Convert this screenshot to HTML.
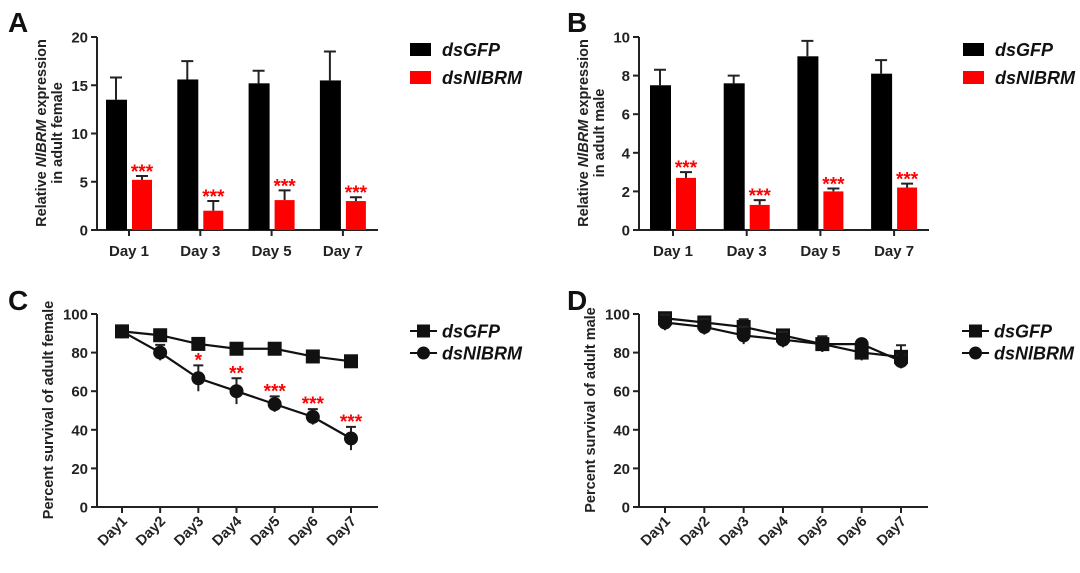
<!DOCTYPE html>
<html><head><meta charset="utf-8"><style>
body{margin:0;background:#fff;width:1080px;height:568px;overflow:hidden}
svg{font-family:"Liberation Sans",Arial,sans-serif;font-weight:bold}
</style></head><body>
<svg id="s" width="1080" height="568" viewBox="0 0 1080 568"></svg>
<script>
const barDays=["Day 1","Day 3","Day 5","Day 7"];
const aGfp=[13.5,15.6,15.2,15.5], aGfpErr=[2.3,1.9,1.3,3.0];
const aNib=[5.2,2.0,3.1,3.0], aNibErr=[0.4,1.0,1.0,0.4];
const aTicks=[0,5,10,15,20];
const bGfp=[7.5,7.6,9.0,8.1], bGfpErr=[0.8,0.4,0.8,0.7];
const bNib=[2.7,1.3,2.0,2.2], bNibErr=[0.3,0.25,0.15,0.2];
const bTicks=[0,2,4,6,8,10];
const lineDays=["Day1","Day2","Day3","Day4","Day5","Day6","Day7"];
const cGfp=[91,89,84.5,82,82,78,75.5], cGfpErr=[1,1,1,1,1,1,1];
const cNib=[91,80,66.7,60,53.3,46.7,35.5], cNibErr=[1,4,6.7,6.7,4,4,6];
const cSig=["","","*","**","***","***","***"];
const dGfp=[97.8,95.6,93.3,88.9,84.4,80,77.8], dGfpErr=[1,1.5,4,1,4,4,6];
const dNib=[95.6,93.3,88.9,86.7,84.4,84.4,75.6], dNibErr=[4,4,4.5,4,4,2,3];
const lineTicks=[0,20,40,60,80,100];
const NS="http://www.w3.org/2000/svg", S=document.getElementById('s');
function el(t,a,p){const e=document.createElementNS(NS,t);for(const k in a)e.setAttribute(k,a[k]);(p||S).appendChild(e);return e;}
function txt(x,y,s,a,p){const e=el('text',Object.assign({x:x,y:y},a),p);e.textContent=s;return e;}
function axes(g,x0,x1,yTop,yBot,ticks,max,tickX){
  const y=v=>yBot-(v/max)*(yBot-yTop);
  const ax=el('path',{d:`M${x0} ${yTop}V${yBot}H${x1}`,stroke:'#222','stroke-width':2,fill:'none'},g);
  
  ticks.forEach(t=>{el('line',{x1:x0-6,x2:x0,y1:y(t),y2:y(t),stroke:'#222','stroke-width':2},g);
    const tl=txt(x0-9,y(t)+5.5,String(t),{'font-size':15,'text-anchor':'end',fill:'#222'},g);
    });
  tickX.forEach(tx=>el('line',{x1:tx,x2:tx,y1:yBot,y2:yBot+6,stroke:'#222','stroke-width':2},g));
  return y;
}
function err(g,x,y1,y2,w){el('path',{d:`M${x} ${y1}V${y2}M${x-w} ${y2}H${x+w}`,stroke:'#222','stroke-width':2,fill:'none'},g);}
function barPanel(name,letter,lx,x0,x1,t0,step,max,ticks,gfp,ge,nib,ne,titleLines,legX){
  const g=el('g',{});
  const L=txt(lx,32,letter,{'font-size':28,fill:'#111'},g);
  const tx=barDays.map((d,i)=>t0+i*step);
  const y=axes(g,x0,x1,37,230,ticks,max,tx);
  barDays.forEach((d,i)=>{
    const bx=tx[i]-23;
    err(g,bx+10,y(gfp[i]),y(gfp[i]+ge[i]),6);
    const b=el('rect',{x:bx,y:y(gfp[i]),width:21,height:230-y(gfp[i]),fill:'#000'},g);
    
    const rx=tx[i]+3;
    err(g,rx+10,y(nib[i]),y(nib[i]+ne[i]),6);
    const r=el('rect',{x:rx,y:y(nib[i]),width:20,height:230-y(nib[i]),fill:'#f00'},g);
    
    const st=txt(rx+10,y(nib[i]+ne[i])+2,'***',{'font-size':19,'text-anchor':'middle',fill:'#f00'},g);
    
    const xl=txt(tx[i],256,d,{'font-size':15,'text-anchor':'middle',fill:'#222'},g);
    
  });
  const tt=el('text',{transform:`translate(${x0-43},133) rotate(-90)`,'font-size':14.5,'text-anchor':'middle',fill:'#222'},g);
  
  tt.innerHTML=`<tspan x="0" dy="-8">Relative <tspan font-style="italic">NlBRM</tspan> expression</tspan><tspan x="0" dy="16">${titleLines}</tspan>`;
  [['#000','dsGFP',43],['#f00','dsNlBRM',71]].forEach(([c,s,yy])=>{
    const lr=el('rect',{x:legX,y:yy,width:21,height:13,fill:c},g);
    const lt=txt(legX+32,yy+13,s,{'font-size':18,'font-style':'italic',fill:'#111'},g);
  });
}
barPanel('panel-a-bar-chart','A',8,97,378,129,71.3,20,aTicks,aGfp,aGfpErr,aNib,aNibErr,'in adult female',410);
barPanel('panel-b-bar-chart','B',567,639,929,673,73.7,10,bTicks,bGfp,bGfpErr,bNib,bNibErr,'in adult male',963);
function linePanel(name,letter,lx,x0,x1,t0,t6,gfp,ge,nib,ne,sig,title,legX){
  const g=el('g',{});
  const L=txt(lx,310,letter,{'font-size':28,fill:'#111'},g);
  const step=(t6-t0)/6, tx=lineDays.map((d,i)=>t0+i*step);
  const y=axes(g,x0,x1,314,507,lineTicks,100,tx);
  [[gfp,ge,'sq','dsgfp'],[nib,ne,'ci','dsnibrm']].forEach(([v,e,m,n])=>{
    v.forEach((val,i)=>{err(g,tx[i],y(val-e[i]),y(val+e[i]),5);});
    const pl=el('polyline',{points:v.map((val,i)=>tx[i]+','+y(val)).join(' '),fill:'none',stroke:'#111','stroke-width':2.2},g);
    
    v.forEach((val,i)=>{
      const mk=m==='sq'?el('rect',{x:tx[i]-7,y:y(val)-7,width:14,height:14,fill:'#111'},g):el('circle',{cx:tx[i],cy:y(val),r:7,fill:'#111'},g);
      
    });
  });
  if(sig) sig.forEach((s,i)=>{if(!s)return;const st=txt(tx[i],y(nib[i]+ne[i])+1,s,{'font-size':19,'text-anchor':'middle',fill:'#f00'},g);
    });
  lineDays.forEach((d,i)=>{const xl=txt(0,0,d,{'font-size':14.5,'text-anchor':'end',fill:'#222',transform:`translate(${tx[i]+6},${522}) rotate(-45)`},g);
    });
  const tt=txt(0,0,title,{transform:`translate(${x0-44},410) rotate(-90)`,'font-size':14.5,'text-anchor':'middle',fill:'#222'},g);
  
  [['sq','dsGFP',331],['ci','dsNlBRM',353]].forEach(([m,s,yy])=>{
    el('line',{x1:legX,x2:legX+27,y1:yy,y2:yy,stroke:'#111','stroke-width':2},g);
    const mk=m==='sq'?el('rect',{x:legX+7,y:yy-6.5,width:13,height:13,fill:'#111'},g):el('circle',{cx:legX+13.5,cy:yy,r:6.5,fill:'#111'},g);
    
    const lt=txt(legX+32,yy+6.5,s,{'font-size':18,'font-style':'italic',fill:'#111'},g);
  });
}
linePanel('panel-c-line-chart','C',8,97,378,122,351,cGfp,cGfpErr,cNib,cNibErr,cSig,'Percent survival of adult female',410);
linePanel('panel-d-line-chart','D',567,639,928,665,901,dGfp,dGfpErr,dNib,dNibErr,null,'Percent survival of adult male',962);
</script>
</body></html>
